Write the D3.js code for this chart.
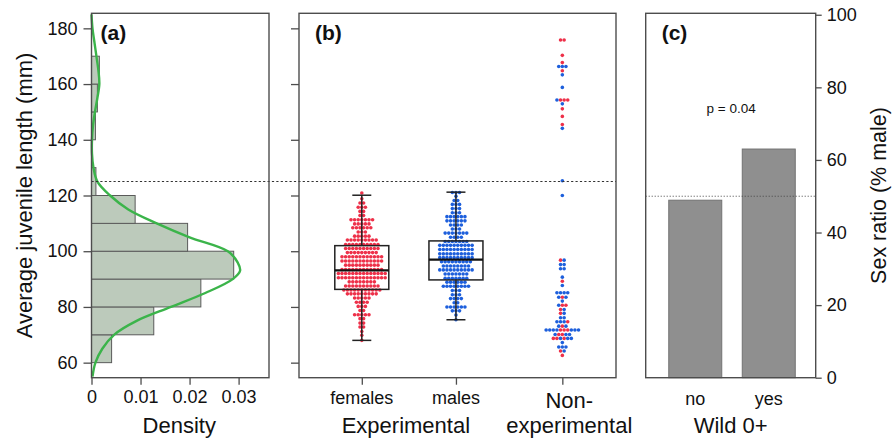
<!DOCTYPE html>
<html>
<head>
<meta charset="utf-8">
<script src="https://cdn.jsdelivr.net/npm/d3@7"></script>
<style>
  body { margin: 0; background: #fff; }
  svg text { font-family: "Liberation Sans", Arial, Helvetica, sans-serif; fill: #111; }
</style>
</head>
<body>
<svg id="chart" width="893" height="443"></svg>
<script>
// ---- values ----
const lengthTicks = [60, 80, 100, 120, 140, 160, 180];
const densityTicks = [0, 0.01, 0.02, 0.03];
const histStart = [60, 70, 80, 90, 100, 110, 120, 130, 140, 150, 160]; // bin width 10 mm
const histDensity = [0.0041, 0.0127, 0.0223, 0.0290, 0.0196, 0.0089, 0.0009, 0, 0.0008, 0.0012, 0.0016];
const kdeLength = [55, 60, 65, 70, 75, 80, 85, 90, 93, 96, 100, 105, 110, 115, 120, 125, 130, 135, 140, 145, 150, 155, 160, 165, 170, 175, 180, 185];
const kdeDensity = [0.0002, 0.0008, 0.0022, 0.0046, 0.0092, 0.0162, 0.0232, 0.0288, 0.0303, 0.0298, 0.0278, 0.0200, 0.0133, 0.0075, 0.0038, 0.0012, 0.0004, 0.0001, 0.0001, 0.0003, 0.0007, 0.0012, 0.0016, 0.0014, 0.0010, 0.0006, 0.0002, 0.0000];
const cutoff = 125;

const groupNames = ["females", "males", "Non-experimental"];
// [length, number of fish in the row]
const femaleRows = [[120.9,1],[118.8,1],[117.3,2],[115.8,3],[114.3,2],[112.8,2],[111.3,7],[109.8,5],[108.4,6],[106.9,3],[105.4,5],[104.0,9],[102.4,10],[101.0,10],[99.5,9],[98.0,12],[96.5,12],[95.0,10],[93.4,12],[92.0,14],[90.5,14],[89.0,8],[87.5,10],[86.1,11],[84.7,9],[83.2,5],[81.7,4],[80.2,3],[78.7,2],[77.2,5],[75.8,2],[74.2,2],[72.8,2],[71.2,1],[69.8,1],[68.0,1]];
const maleRows = [[121.1,3],[119.7,1],[118.2,2],[116.8,3],[115.3,3],[113.8,3],[112.4,6],[110.9,6],[109.4,4],[108.0,3],[106.5,7],[105.0,4],[103.5,7],[102.1,10],[100.6,10],[99.1,10],[97.7,10],[96.2,9],[94.7,8],[93.3,10],[91.8,7],[90.3,7],[88.9,6],[87.4,8],[85.9,3],[84.4,3],[83.0,4],[81.5,2],[80.0,6],[78.6,3],[77.1,1],[75.4,1]];
// [length, sex of each fish in the row: f = female, m = male]
const nonexpRows = [[175.8,"ff"],[170.3,"f"],[167.7,"f"],[166.3,"mmm"],[164.8,"f"],[163.3,"m"],[158.8,"m"],[154.3,"mfff"],[152.9,"m"],[151.1,"f"],[148.4,"f"],[145.5,"f"],[144.1,"m"],[125.3,"m"],[120.0,"m"],
  [96.8,"fm"],[95.2,"mm"],[93.7,"mm"],[90.7,"m"],[89.2,"f"],[87.7,"m"],[85.1,"mmmm"],[83.5,"mfm"],[82.1,"m"],[80.6,"mff"],[79.1,"fm"],[77.7,"fm"],[76.1,"mm"],[74.7,"mmmf"],[73.1,"mfm"],[71.7,"mmmmfffmmm"],[70.1,"mffmm"],[68.7,"ffmfmm"],[67.2,"m"],[65.6,"mmm"],[64.2,"fm"],[62.6,"f"]];
// min, q1, median, q3, max
const femaleBox = [68.0, 86.3, 93.1, 102.0, 120.1];
const maleBox = [75.4, 89.7, 97.0, 103.7, 121.2];

const wildGroups = ["no", "yes"];
const sexRatio = [48.9, 63.0];
const ratioTicks = [0, 20, 40, 60, 80, 100];
const evenRatio = 50;
const pText = "p = 0.04";

// ---- layout ----
const plotTop = 13.3, plotBottom = 377.7;
const panelA = [91.5, 269], panelB = [299, 616], panelC = [645.7, 815.7];
const frameColor = "#4d4d4d";
const red = "#ee3049", blue = "#1d5fdc";
const dotR = 1.8, dotStep = 3.6;

const svg = d3.select("#chart");

const yLen = d3.scaleLinear().domain([54.6, 185.4]).range([plotBottom, plotTop]);
const xDens = d3.scaleLinear().domain([0, 0.0362]).range(panelA);
const xGroup = d3.scaleLinear().domain([0.333, 3.7]).range(panelB);
const groupPos = [1, 2, 3.13];
const yRatio = d3.scaleLinear().domain([0, 100.4]).range([plotBottom, plotTop]);
const xWild = d3.scaleBand().domain(wildGroups).range(panelC).paddingInner(0.279).paddingOuter(0.296).align(0.53);

function styleAxis(g) {
  g.select(".domain").remove();
  g.selectAll(".tick line").attr("stroke", frameColor).attr("stroke-width", 1.3);
  g.selectAll(".tick text").style("font-size", "18px").attr("fill", "#111");
}

// ---------- panel (a) ----------
const hist = histStart.map((s, i) => ({s, d: histDensity[i]})).filter(d => d.d > 0);
svg.append("g").selectAll("rect").data(hist).join("rect")
  .attr("x", xDens(0))
  .attr("y", d => yLen(d.s + 10))
  .attr("width", d => xDens(d.d) - xDens(0))
  .attr("height", d => yLen(d.s) - yLen(d.s + 10))
  .attr("fill", "#bccabb")
  .attr("stroke", "#5a5a5a")
  .attr("stroke-width", 1);

const kde = kdeLength.map((v, i) => [v, kdeDensity[i]]);
svg.append("path")
  .datum(kde)
  .attr("fill", "none")
  .attr("stroke", "#3bb44a")
  .attr("stroke-width", 2.4)
  .attr("d", d3.line().x(d => xDens(d[1])).y(d => yLen(d[0])).curve(d3.curveCatmullRom));

svg.append("g")
  .attr("transform", `translate(${panelA[0]},0)`)
  .call(d3.axisLeft(yLen).tickValues(lengthTicks).tickSize(8).tickPadding(6).tickSizeOuter(0))
  .call(styleAxis);

svg.append("g")
  .attr("transform", `translate(0,${plotBottom})`)
  .call(d3.axisBottom(xDens).tickValues(densityTicks).tickFormat(d => d === 0 ? "0" : d3.format(".2f")(d)).tickSize(7).tickPadding(6).tickSizeOuter(0))
  .call(styleAxis);

// ---------- panel (b) ----------
function rowsToDots(rows, pos, sex) {
  return rows.flatMap(([v, n]) => d3.range(n).map(i => ({v, pos, k: i - (n - 1) / 2, sex})));
}
const dots = [
  ...rowsToDots(femaleRows, groupPos[0], "f"),
  ...rowsToDots(maleRows, groupPos[1], "m"),
  ...nonexpRows.flatMap(([v, s]) => s.split("").map((c, i) => ({v, pos: groupPos[2], k: i - (s.length - 1) / 2, sex: c})))
];
svg.append("g").selectAll("circle").data(dots).join("circle")
  .attr("cx", d => xGroup(d.pos) + d.k * dotStep)
  .attr("cy", d => yLen(d.v))
  .attr("r", dotR)
  .attr("fill", d => d.sex === "f" ? red : blue);

const boxes = [{pos: groupPos[0], s: femaleBox}, {pos: groupPos[1], s: maleBox}];
const boxW = 54, capW = 19;
const bx = svg.append("g").attr("stroke", "#222").attr("fill", "none");
boxes.forEach(b => {
  const cx = xGroup(b.pos);
  bx.append("line").attr("x1", cx).attr("x2", cx).attr("y1", yLen(b.s[0])).attr("y2", yLen(b.s[1])).attr("stroke-width", 1.5);
  bx.append("line").attr("x1", cx).attr("x2", cx).attr("y1", yLen(b.s[3])).attr("y2", yLen(b.s[4])).attr("stroke-width", 1.5);
  [b.s[0], b.s[4]].forEach(v => bx.append("line")
    .attr("x1", cx - capW / 2).attr("x2", cx + capW / 2).attr("y1", yLen(v)).attr("y2", yLen(v)).attr("stroke-width", 1.5));
  bx.append("rect").attr("x", cx - boxW / 2).attr("width", boxW)
    .attr("y", yLen(b.s[3])).attr("height", yLen(b.s[1]) - yLen(b.s[3])).attr("stroke-width", 1.5);
  bx.append("line").attr("x1", cx - boxW / 2).attr("x2", cx + boxW / 2)
    .attr("y1", yLen(b.s[2])).attr("y2", yLen(b.s[2])).attr("stroke-width", 2.2).attr("stroke", "#111");
});

svg.append("g")
  .attr("transform", `translate(${panelB[0]},0)`)
  .call(d3.axisLeft(yLen).tickValues(lengthTicks).tickFormat("").tickSize(8).tickSizeOuter(0))
  .call(styleAxis);

svg.append("g")
  .attr("transform", `translate(0,${plotBottom})`)
  .call(d3.axisBottom(xGroup).tickValues(groupPos).tickFormat("").tickSize(7).tickSizeOuter(0))
  .call(styleAxis);

svg.append("g").selectAll("text").data(groupNames.slice(0, 2)).join("text")
  .attr("x", (d, i) => xGroup(groupPos[i]))
  .attr("y", 404)
  .attr("text-anchor", "middle")
  .style("font-size", "18px")
  .text(d => d);

const nonLbl = svg.append("text")
  .attr("text-anchor", "middle")
  .style("font-size", "22px");
nonLbl.append("tspan").attr("x", xGroup(groupPos[2]) + 7).attr("y", 408).text("Non-");
nonLbl.append("tspan").attr("x", xGroup(groupPos[2]) + 7).attr("y", 433).text("experimental");

svg.append("text")
  .attr("x", (xGroup(groupPos[0]) + xGroup(groupPos[1])) / 2 - 3)
  .attr("y", 433)
  .attr("text-anchor", "middle")
  .style("font-size", "22px")
  .text("Experimental");

// dotted cutoff across (a) and (b)
svg.append("line")
  .attr("x1", panelA[0]).attr("x2", panelB[1])
  .attr("y1", yLen(cutoff)).attr("y2", yLen(cutoff))
  .attr("stroke", "#333").attr("stroke-width", 1.1).attr("stroke-dasharray", "2.2,2.2");

// ---------- panel (c) ----------
svg.append("g").selectAll("rect").data(wildGroups).join("rect")
  .attr("x", d => xWild(d))
  .attr("width", xWild.bandwidth())
  .attr("y", (d, i) => yRatio(sexRatio[i]))
  .attr("height", (d, i) => yRatio(0) - yRatio(sexRatio[i]))
  .attr("fill", "#8f8f8f")
  .attr("stroke", "#727272")
  .attr("stroke-width", 1);

svg.append("line")
  .attr("x1", panelC[0]).attr("x2", panelC[1])
  .attr("y1", yRatio(evenRatio)).attr("y2", yRatio(evenRatio))
  .attr("stroke", "#444").attr("stroke-width", 1).attr("stroke-dasharray", "1,2");

svg.append("g")
  .attr("transform", `translate(${panelC[1]},0)`)
  .call(d3.axisRight(yRatio).tickValues(ratioTicks).tickSize(6).tickPadding(5).tickSizeOuter(0))
  .call(styleAxis);

svg.append("g").selectAll("text").data(wildGroups).join("text")
  .attr("x", d => xWild(d) + xWild.bandwidth() / 2)
  .attr("y", 405)
  .attr("text-anchor", "middle")
  .style("font-size", "18px")
  .text(d => d);

svg.append("text")
  .attr("x", (panelC[0] + panelC[1]) / 2)
  .attr("y", 433)
  .attr("text-anchor", "middle")
  .style("font-size", "22px")
  .text("Wild 0+");

svg.append("text")
  .attr("x", (panelC[0] + panelC[1]) / 2 + 0.5)
  .attr("y", 113)
  .attr("text-anchor", "middle")
  .style("font-size", "13.5px")
  .text(pText);

// ---------- frames, titles, panel letters ----------
[panelA, panelB, panelC].forEach(p => {
  svg.append("rect")
    .attr("x", p[0]).attr("y", plotTop)
    .attr("width", p[1] - p[0]).attr("height", plotBottom - plotTop)
    .attr("fill", "none").attr("stroke", frameColor).attr("stroke-width", 1.4);
});

svg.append("text")
  .attr("transform", `translate(32,${(plotTop + plotBottom) / 2}) rotate(-90)`)
  .attr("text-anchor", "middle")
  .style("font-size", "22px")
  .text("Average juvenile length (mm)");

svg.append("text")
  .attr("x", (panelA[0] + panelA[1]) / 2 - 1)
  .attr("y", 433)
  .attr("text-anchor", "middle")
  .style("font-size", "22px")
  .text("Density");

svg.append("text")
  .attr("transform", `translate(886,${(plotTop + plotBottom) / 2}) rotate(-90)`)
  .attr("text-anchor", "middle")
  .style("font-size", "21.5px")
  .text("Sex ratio (% male)");

[["(a)", panelA[0] + 9], ["(b)", panelB[0] + 16], ["(c)", panelC[0] + 16]].forEach(([t, x]) => {
  svg.append("text")
    .attr("x", x).attr("y", 39.5)
    .style("font-size", "21px")
    .style("font-weight", "bold")
    .text(t);
});
</script>
</body>
</html>
